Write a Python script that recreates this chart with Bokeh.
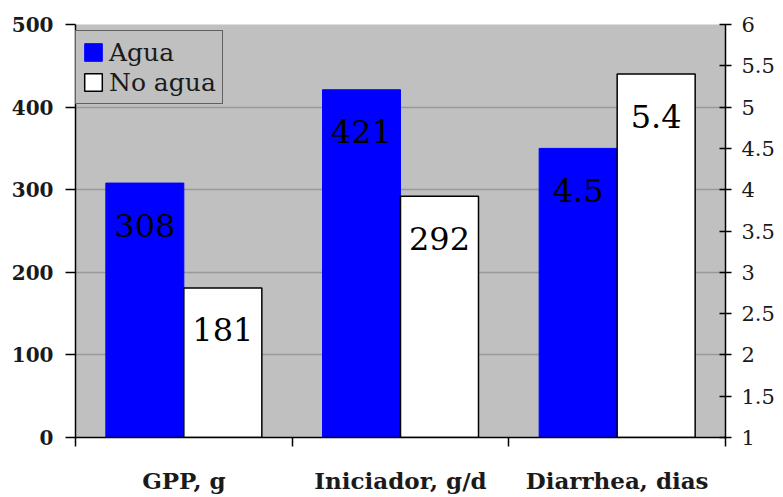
from bokeh.plotting import figure
from bokeh.models import (Range1d, LinearAxis, FixedTicker, ColumnDataSource,
                          Legend, NumeralTickFormatter, CustomJSTickFormatter)
from bokeh.core.properties import value
from bokeh.embed import file_html
from bokeh.resources import INLINE

categories = ["GPP, g", "Iniciador, g/d", "Diarrhea, dias"]
agua = [308, 421, 4.5]
no_agua = [181, 292, 5.4]
agua_labels = ["308", "421", "4.5"]
no_agua_labels = ["181", "292", "5.4"]
left_ticks = [0, 100, 200, 300, 400, 500]
right_ticks = [1, 1.5, 2, 2.5, 3, 3.5, 4, 4.5, 5, 5.5, 6]

SERIF = "DejaVu Serif"

p = figure(frame_width=650, frame_height=413,
           x_range=Range1d(0, len(categories)), y_range=Range1d(0, 500),
           output_backend="svg", toolbar_location=None,
           x_axis_location=None, y_axis_location="left",
           min_border_left=75, min_border_right=55, min_border_top=24, min_border_bottom=58,
           background_fill_color="#c0c0c0", border_fill_color="white")
p.outline_line_color = None
p.extra_y_ranges = {"right": Range1d(1, 6)}

# left axis
ya = p.yaxis[0]
ya.ticker = FixedTicker(ticks=left_ticks)
ya.major_tick_out = 10
ya.major_tick_in = 0
ya.minor_tick_line_color = None
ya.axis_line_color = "black"
ya.axis_line_width = 1.5
ya.major_tick_line_width = 1.5
ya.major_label_text_font = SERIF
ya.major_label_text_font_style = "bold"
ya.major_label_text_font_size = "20px"
ya.major_label_text_color = "#1a1a1a"
ya.major_label_standoff = 12

# right axis
ra = LinearAxis(y_range_name="right", ticker=FixedTicker(ticks=right_ticks),
                formatter=NumeralTickFormatter(format="0.[0]"))
ra.major_tick_out = 6
ra.major_tick_in = 6
ra.minor_tick_line_color = None
ra.axis_line_color = "black"
ra.axis_line_width = 1.5
ra.major_tick_line_width = 1.5
ra.major_label_text_font = SERIF
ra.major_label_text_font_size = "21px"
ra.major_label_text_color = "#1a1a1a"
ra.major_label_standoff = 10
p.add_layout(ra, "right")

# bottom tick axis (category boundaries), no labels
ta = LinearAxis(ticker=FixedTicker(ticks=list(range(len(categories) + 1))),
                formatter=CustomJSTickFormatter(code="return '';"))
ta.major_tick_out = 9
ta.major_tick_in = 0
ta.minor_tick_line_color = None
ta.axis_line_color = "black"
ta.axis_line_width = 1.5
ta.major_tick_line_width = 1.5
ta.major_label_standoff = 0
p.add_layout(ta, "below")

# category labels
centers = [i + 0.5 for i in range(len(categories))]
ca = LinearAxis(ticker=FixedTicker(ticks=centers),
                formatter=CustomJSTickFormatter(args=dict(cats=categories),
                                                code="return cats[Math.floor(tick)];"))
ca.major_tick_out = 0
ca.major_tick_in = 0
ca.minor_tick_line_color = None
ca.major_tick_line_color = None
ca.axis_line_color = None
ca.major_label_text_font = SERIF
ca.major_label_text_font_style = "bold"
ca.major_label_text_font_size = "23px"
ca.major_label_text_color = "#1a1a1a"
ca.major_label_standoff = 20
p.add_layout(ca, "below")

p.xgrid.grid_line_color = None
p.ygrid.ticker = FixedTicker(ticks=[100, 200, 300, 400, 500])
p.ygrid.grid_line_color = "#999999"
p.ygrid.grid_line_width = 1.5

W = 0.36
xa = [c - W / 2 for c in centers]
xn = [c + W / 2 for c in centers]

left_src = ColumnDataSource(dict(xa=xa[:2], xn=xn[:2], agua=agua[:2], no_agua=no_agua[:2],
                                 al=agua_labels[:2], nl=no_agua_labels[:2]))
right_src = ColumnDataSource(dict(xa=xa[2:], xn=xn[2:], agua=agua[2:], no_agua=no_agua[2:],
                                  al=agua_labels[2:], nl=no_agua_labels[2:]))

renderers = []
for src, rname, base in [(left_src, "default", 0), (right_src, "right", 1)]:
    r1 = p.vbar(x="xa", top="agua", bottom=base, width=W,
                source=src, fill_color="#0000ff", line_color="#0000ff", y_range_name=rname)
    r2 = p.vbar(x="xn", top="no_agua", bottom=base, width=W,
                source=src, fill_color="white", line_color="black", line_width=1.5,
                y_range_name=rname)
    p.text(x="xa", y="agua", text="al", source=src,
           y_offset=42, text_align="center", text_baseline="middle",
           text_font=value(SERIF), text_font_size="32px", text_color="black", y_range_name=rname)
    p.text(x="xn", y="no_agua", text="nl", source=src,
           y_offset=42, text_align="center", text_baseline="middle",
           text_font=value(SERIF), text_font_size="32px", text_color="black", y_range_name=rname)
    renderers.append((r1, r2))

legend = Legend(items=[("Agua", [renderers[0][0]]), ("No agua", [renderers[0][1]])],
                location=(0, 333), margin=0, padding=6, spacing=0,
                background_fill_color="#c0c0c0", background_fill_alpha=1.0,
                border_line_color="black", border_line_width=1.5,
                label_text_font=SERIF, label_text_font_size="25px",
                label_text_color="#1a1a1a",
                glyph_width=22, glyph_height=22, label_standoff=5, label_height=30)
p.add_layout(legend)

open("out.html", "w").write(file_html(p, INLINE))
